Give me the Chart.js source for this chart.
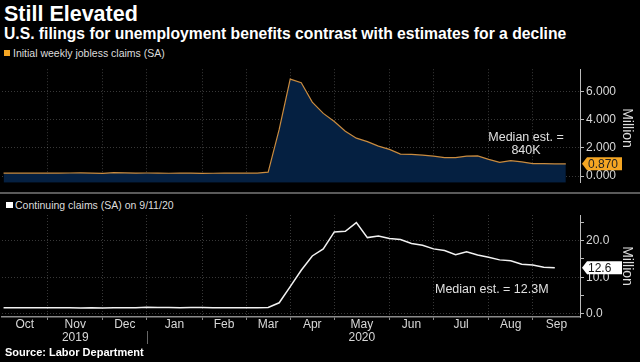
<!DOCTYPE html>
<html>
<head>
<meta charset="utf-8">
<script src="https://cdn.jsdelivr.net/npm/chart.js@4.4.0/dist/chart.umd.min.js"></script>
<style>
  body { margin: 0; background: #000; width: 640px; height: 362px; overflow: hidden; position: relative;
         font-family: "Liberation Sans", Arial, sans-serif; color: #fff; }
  .abs { position: absolute; white-space: nowrap; }
  #title { left: 4px; top: 4px; font-size: 21.5px; line-height: 21px; font-weight: bold; }
  #subtitle { left: 4px; top: 25px; font-size: 15.7px; line-height: 17px; font-weight: bold; }
  .legend { font-size: 10.5px; line-height: 12px; color: #ddd; }
  .swatch { position: absolute; width: 6px; height: 6px; }
  .note { font-size: 12.5px; line-height: 13px; color: #e0e0e0; }
  .unit { font-size: 14px; color: #ddd; transform: translate(-50%, -50%) rotate(90deg); }
  #source { left: 5px; top: 345px; font-size: 11px; line-height: 14px; font-weight: bold; }
  #sep { left: 0; top: 192px; width: 640px; height: 2px; background: #5a5a5a; }
  .wrap { position: absolute; left: 0; width: 640px; }
</style>
</head>
<body>
<div class="abs" id="title">Still Elevated</div>
<div class="abs" id="subtitle">U.S. filings for unemployment benefits contrast with estimates for a decline</div>

<div class="swatch" style="left:4px; top:50px; background:#f5a623;"></div>
<div class="abs legend" style="left:13px; top:47px;">Initial weekly jobless claims (SA)</div>

<div class="wrap" style="top:60px; height:132px;"><canvas id="initial" width="640" height="132"></canvas></div>
<div class="abs" id="sep"></div>

<div class="swatch" style="left:6px; top:202px; width:7px; background:#fff;"></div>
<div class="abs legend" style="left:15px; top:199px;">Continuing claims (SA) on 9/11/20</div>

<div class="wrap" style="top:200px; height:162px;"><canvas id="continuing" width="640" height="162"></canvas></div>

<div class="abs note" style="left:476px; top:131px; width:100px; text-align:center;">Median est. =<br>840K</div>
<div class="abs note" style="left:435px; top:283px;">Median est. = 12.3M</div>
<div class="abs unit" style="left:628px; top:128px;">Million</div>
<div class="abs unit" style="left:628px; top:266px;">Million</div>
<div class="abs" id="source">Source: Labor Department</div>

<script>
// week-ending dates (Saturdays)
const weeks = [
  "2019-09-28", "2019-10-05", "2019-10-12", "2019-10-19", "2019-10-26",
  "2019-11-02", "2019-11-09", "2019-11-16", "2019-11-23", "2019-11-30",
  "2019-12-07", "2019-12-14", "2019-12-21", "2019-12-28",
  "2020-01-04", "2020-01-11", "2020-01-18", "2020-01-25",
  "2020-02-01", "2020-02-08", "2020-02-15", "2020-02-22", "2020-02-29",
  "2020-03-07", "2020-03-14", "2020-03-21", "2020-03-28",
  "2020-04-04", "2020-04-11", "2020-04-18", "2020-04-25",
  "2020-05-02", "2020-05-09", "2020-05-16", "2020-05-23", "2020-05-30",
  "2020-06-06", "2020-06-13", "2020-06-20", "2020-06-27",
  "2020-07-04", "2020-07-11", "2020-07-18", "2020-07-25",
  "2020-08-01", "2020-08-08", "2020-08-15", "2020-08-22", "2020-08-29",
  "2020-09-05", "2020-09-12", "2020-09-19"
];

// millions
const initialClaims = [
  0.219, 0.210, 0.214, 0.212, 0.218,
  0.211, 0.225, 0.227, 0.213, 0.203,
  0.252, 0.234, 0.220, 0.224,
  0.212, 0.207, 0.222, 0.217,
  0.204, 0.206, 0.214, 0.219, 0.217,
  0.211, 0.282, 3.307, 6.867,
  6.615, 5.237, 4.442, 3.867,
  3.176, 2.687, 2.446, 2.126, 1.897,
  1.566, 1.540, 1.482, 1.413,
  1.310, 1.307, 1.422, 1.435,
  1.191, 0.971, 1.104, 1.011, 0.893,
  0.893, 0.866, 0.870
];

// millions, one week shorter than initial claims
const continuingClaims = [
  1.689, 1.684, 1.682, 1.690, 1.692,
  1.690, 1.693, 1.666, 1.700, 1.667,
  1.722, 1.725, 1.728, 1.806,
  1.803, 1.747, 1.712, 1.751,
  1.760, 1.721, 1.733, 1.724, 1.703,
  1.702, 1.784, 3.059, 7.446,
  11.914, 15.819, 17.756, 22.377,
  22.548, 24.912, 20.838, 21.268, 20.606,
  20.289, 19.231, 18.760, 17.760,
  17.304, 16.151, 16.951, 16.090,
  15.486, 14.759, 14.492, 13.544, 13.385,
  12.747, 12.580
];

// vertical grid lines and month labels
const gridDates = ["2019-10-26", "2019-11-30", "2019-12-28", "2020-02-01", "2020-02-29", "2020-03-28",
                   "2020-04-25", "2020-05-30", "2020-06-27", "2020-08-01", "2020-08-29"];
const monthLabels = ["Oct", "Nov", "Dec", "Jan", "Feb", "Mar", "Apr", "May", "Jun", "Jul", "Aug", "Sep"];
const yearLabels  = ["", "2019", "", "", "", "", "", "2020", "", "", "", ""];
const yearBreak = "2019-12-28";

const initialTicks = [0, 1, 2, 3, 4, 5, 6, 7];
const initialLabeled = [0, 2, 4, 6];
const continuingTicks = [0, 5, 10, 15, 20, 25];
const continuingLabeled = [0, 10, 20];

const DAY0 = Date.parse("2019-09-28");
const dayOf = (d) => (Date.parse(d) - DAY0) / 86400000;
const X_MIN = -1, X_MAX = 366;

const gridDays = gridDates.map(dayOf);
const bounds = [X_MIN, ...gridDays, X_MAX];
const labelDays = monthLabels.map((m, i) => (bounds[i] + bounds[i + 1]) / 2);

Chart.defaults.font.family = '"Liberation Sans", Arial, sans-serif';
Chart.defaults.color = "#d8d8d8";

const GRID = "rgba(255,255,255,0.22)";

// little arrow tag with the latest value, on the right axis
function valueTag(value, text, bg, fg) {
  return {
    id: "valueTag",
    afterDraw(chart) {
      const ctx = chart.ctx;
      const y = chart.scales.y.getPixelForValue(value);
      const x = chart.chartArea.right + 2;
      ctx.save();
      ctx.fillStyle = bg;
      ctx.beginPath();
      ctx.moveTo(x, y);
      ctx.lineTo(x + 5, y - 6.5);
      ctx.lineTo(x + 40, y - 6.5);
      ctx.lineTo(x + 40, y + 6.5);
      ctx.lineTo(x + 5, y + 6.5);
      ctx.closePath();
      ctx.fill();
      ctx.fillStyle = fg;
      ctx.font = '12px "Liberation Sans", Arial, sans-serif';
      ctx.textBaseline = "middle";
      ctx.fillText(text, x + 6, y + 0.5);
      ctx.restore();
    }
  };
}

const yearSeparator = {
  id: "yearSeparator",
  afterDraw(chart) {
    const ctx = chart.ctx;
    const x = Math.round(chart.scales.x.getPixelForValue(dayOf(yearBreak))) + 0.5;
    const b = chart.chartArea.bottom;
    ctx.save();
    ctx.strokeStyle = "#666";
    ctx.lineWidth = 1;
    ctx.beginPath();
    ctx.moveTo(x, b + 14);
    ctx.lineTo(x, b + 27);
    ctx.stroke();
    ctx.restore();
  }
};

function yScale(min, max, ticks, labeled, digits) {
  return {
    position: "right",
    min: min,
    max: max,
    z: 1,
    afterBuildTicks: (s) => { s.ticks = ticks.map((v) => ({ value: v })); },
    afterFit: (s) => { s.width = 60; },
    ticks: {
      color: "#d8d8d8",
      font: { size: 12 },
      padding: 2,
      callback: (v) => (labeled.includes(v) ? v.toFixed(digits) : "")
    },
    grid: {
      color: (c) => (c.tick && labeled.includes(c.tick.value) ? GRID : "transparent"),
      tickColor: "#bbb",
      tickLength: 4
    },
    border: { color: "#bbb", dash: [1, 2] }
  };
}

new Chart(document.getElementById("initial"), {
  type: "line",
  data: {
    datasets: [{
      data: weeks.map((d, i) => ({ x: dayOf(d), y: initialClaims[i] })),
      borderColor: "#c98b3f",
      borderWidth: 1.2,
      backgroundColor: "#052041",
      fill: "start",
      pointRadius: 0,
      tension: 0
    }]
  },
  options: {
    responsive: false,
    animation: false,
    layout: { padding: { left: 2, top: 4, right: 0, bottom: 0 } },
    plugins: { legend: { display: false }, tooltip: { enabled: false } },
    scales: {
      x: {
        type: "linear",
        min: X_MIN,
        max: X_MAX,
        z: 1,
        afterBuildTicks: (s) => { s.ticks = gridDays.map((v) => ({ value: v })); },
        afterFit: (s) => { s.height = 0; },
        ticks: { display: false },
        grid: { color: GRID, drawTicks: false },
        border: { display: false, dash: [1, 2] }
      },
      y: yScale(-0.47, 7.57, initialTicks, initialLabeled, 3)
    }
  },
  plugins: [valueTag(initialClaims[initialClaims.length - 1], "0.870", "#f5a623", "#222")]
});

new Chart(document.getElementById("continuing"), {
  type: "line",
  data: {
    datasets: [{
      data: continuingClaims.map((v, i) => ({ x: dayOf(weeks[i]), y: v })),
      borderColor: "#f2f2f2",
      borderWidth: 1.5,
      fill: false,
      pointRadius: 0,
      tension: 0
    }]
  },
  options: {
    responsive: false,
    animation: false,
    layout: { padding: { left: 2, top: 15, right: 0, bottom: 0 } },
    plugins: { legend: { display: false }, tooltip: { enabled: false } },
    scales: {
      x: {
        type: "linear",
        min: X_MIN,
        max: X_MAX,
        afterBuildTicks: (s) => {
          s.ticks = [...gridDays, ...labelDays].sort((a, b) => a - b).map((v) => ({ value: v }));
        },
        afterFit: (s) => { s.height = 45; },
        ticks: {
          autoSkip: false,
          maxRotation: 0,
          color: "#d8d8d8",
          font: { size: 12, lineHeight: 1.1 },
          padding: -2,
          callback: (v) => {
            const i = labelDays.indexOf(v);
            if (i < 0) return "";
            return yearLabels[i] ? [monthLabels[i], yearLabels[i]] : monthLabels[i];
          }
        },
        grid: {
          color: (c) => (c.tick && gridDays.includes(c.tick.value) ? GRID : "transparent"),
          tickColor: (c) => (c.tick && gridDays.includes(c.tick.value) ? "#888" : "transparent"),
          tickLength: 3
        },
        border: { color: "#8a8a8a", width: 1.5, dash: [1, 2] }
      },
      y: yScale(-0.82, 27.0, continuingTicks, continuingLabeled, 1)
    }
  },
  plugins: [valueTag(continuingClaims[continuingClaims.length - 1], "12.6", "#ffffff", "#111"), yearSeparator]
});
</script>
</body>
</html>
